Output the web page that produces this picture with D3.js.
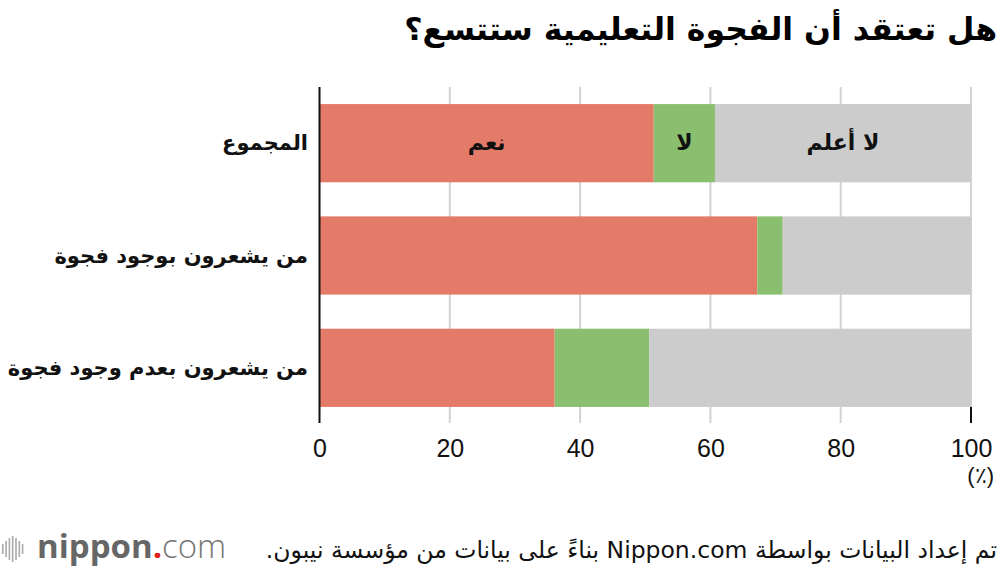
<!DOCTYPE html>
<html><head><meta charset="utf-8">
<script src="https://cdn.jsdelivr.net/npm/d3@7"></script>
<style>body{margin:0;background:#fff}svg{display:block}</style>
</head><body>
<svg id="c" width="1000" height="570"></svg>
<script>
const title = "هل تعتقد أن الفجوة التعليمية ستتسع؟";
const categories = ["المجموع", "من يشعرون بوجود فجوة", "من يشعرون بعدم وجود فجوة"];
const seriesNames = ["نعم", "لا", "لا أعلم"];
const yesValues = [51.3, 67.2, 36.1];
const noValues = [9.4, 3.9, 14.5];
const dkValues = [39.3, 28.9, 49.4];
const tickValues = [0, 20, 40, 60, 80, 100];
const unitLabel = "(٪)";
const source = "تم إعداد البيانات بواسطة Nippon.com بناءً على بيانات من مؤسسة نيبون.";
const colors = ["#e47a68", "#8abf6f", "#cccccc"];

const svg = d3.select("#c");
const arFont = "'DejaVu Sans', sans-serif";
const numFont = "'Liberation Sans Narrow', 'Liberation Sans', sans-serif";

const x = d3.scaleLinear().domain([0, 100]).range([319.5, 971]);
const y = d3.scaleBand().domain(categories).range([87, 424]).paddingInner(0.3036).paddingOuter(0.152);

// title
svg.append("text").attr("x", 997).attr("y", 40)
  .attr("direction", "rtl").attr("text-anchor", "start")
  .attr("font-family", arFont).attr("font-weight", "bold").attr("font-size", 31.5)
  .attr("fill", "#000").text(title);

// gridlines
svg.append("g").selectAll("line").data(tickValues.slice(1)).join("line")
  .attr("x1", d => x(d)).attr("x2", d => x(d)).attr("y1", 87).attr("y2", 423)
  .attr("stroke", "#d3d3d3").attr("stroke-width", 2);

// stacked data
const rows = categories.map((c, i) => ({cat: c, vals: [yesValues[i], noValues[i], dkValues[i]]}));
const stack = d3.stack().keys([0, 1, 2]).value((d, k) => d.vals[k]);
const stacked = stack(rows);

const gBars = svg.append("g");
stacked.forEach((layer, k) => {
  gBars.selectAll(null).data(layer).join("rect")
    .attr("x", d => x(d[0]))
    .attr("width", d => x(d[1]) - x(d[0]))
    .attr("y", d => y(d.data.cat))
    .attr("height", y.bandwidth())
    .attr("fill", colors[k]);
});

// in-bar labels for first row
stacked.forEach((layer, k) => {
  const d = layer[0];
  svg.append("text")
    .attr("x", (x(d[0]) + x(d[1])) / 2)
    .attr("y", y(d.data.cat) + y.bandwidth() / 2 + 7)
    .attr("text-anchor", "middle")
    .attr("font-family", arFont).attr("font-weight", "bold").attr("font-size", 22)
    .attr("fill", "#111").text(seriesNames[k]);
});

// axis line at 0 and black tick at 100 below bars
svg.append("line").attr("x1", x(0)).attr("x2", x(0)).attr("y1", 87).attr("y2", 423)
  .attr("stroke", "#111").attr("stroke-width", 2);
svg.append("line").attr("x1", x(100)).attr("x2", x(100)).attr("y1", y(categories[2]) + y.bandwidth()).attr("y2", 423)
  .attr("stroke", "#111").attr("stroke-width", 2);

// category labels
svg.append("g").selectAll("text").data(categories).join("text")
  .attr("x", 308).attr("y", d => y(d) + y.bandwidth() / 2 + 7)
  .attr("direction", "rtl").attr("text-anchor", "start")
  .attr("font-family", arFont).attr("font-weight", "bold").attr("font-size", 21)
  .attr("fill", "#111").text(d => d);

// tick labels via axis
const axis = d3.axisBottom(x).tickValues(tickValues).tickSize(0).tickPadding(0);
const gA = svg.append("g").attr("transform", "translate(0,439)").call(axis);
gA.select(".domain").remove();
gA.selectAll("text").attr("font-family", numFont).attr("font-size", 25).attr("fill", "#111").attr("dy", "0.71em");

svg.append("text").attr("x", 994).attr("y", 483).attr("text-anchor", "end")
  .attr("font-family", numFont).attr("font-size", 22).attr("fill", "#111").text(unitLabel);

// source
svg.append("text").attr("x", 997).attr("y", 558)
  .attr("direction", "rtl").attr("text-anchor", "start")
  .attr("font-family", arFont).attr("font-size", 23.5).attr("fill", "#111").text(source);

// logo
const logo = svg.append("g");
const barH = [10, 16, 22, 26, 22, 16, 10];
barH.forEach((h, i) => {
  logo.append("rect").attr("x", 2 + i * 3.3).attr("y", 549 - h / 2).attr("width", 1.6).attr("height", h).attr("fill", "#aaa");
});
const lt = logo.append("text").attr("x", 37).attr("y", 558)
  .attr("font-family", "'Open Sans', sans-serif").attr("font-size", 33);
lt.append("tspan").attr("font-weight", "bold").attr("fill", "#666").text("nippon");
lt.append("tspan").attr("font-weight", "bold").attr("fill", "#e0201e").text(".");
lt.append("tspan").attr("font-weight", "300").attr("fill", "#777").text("com");
</script>
</body></html>
